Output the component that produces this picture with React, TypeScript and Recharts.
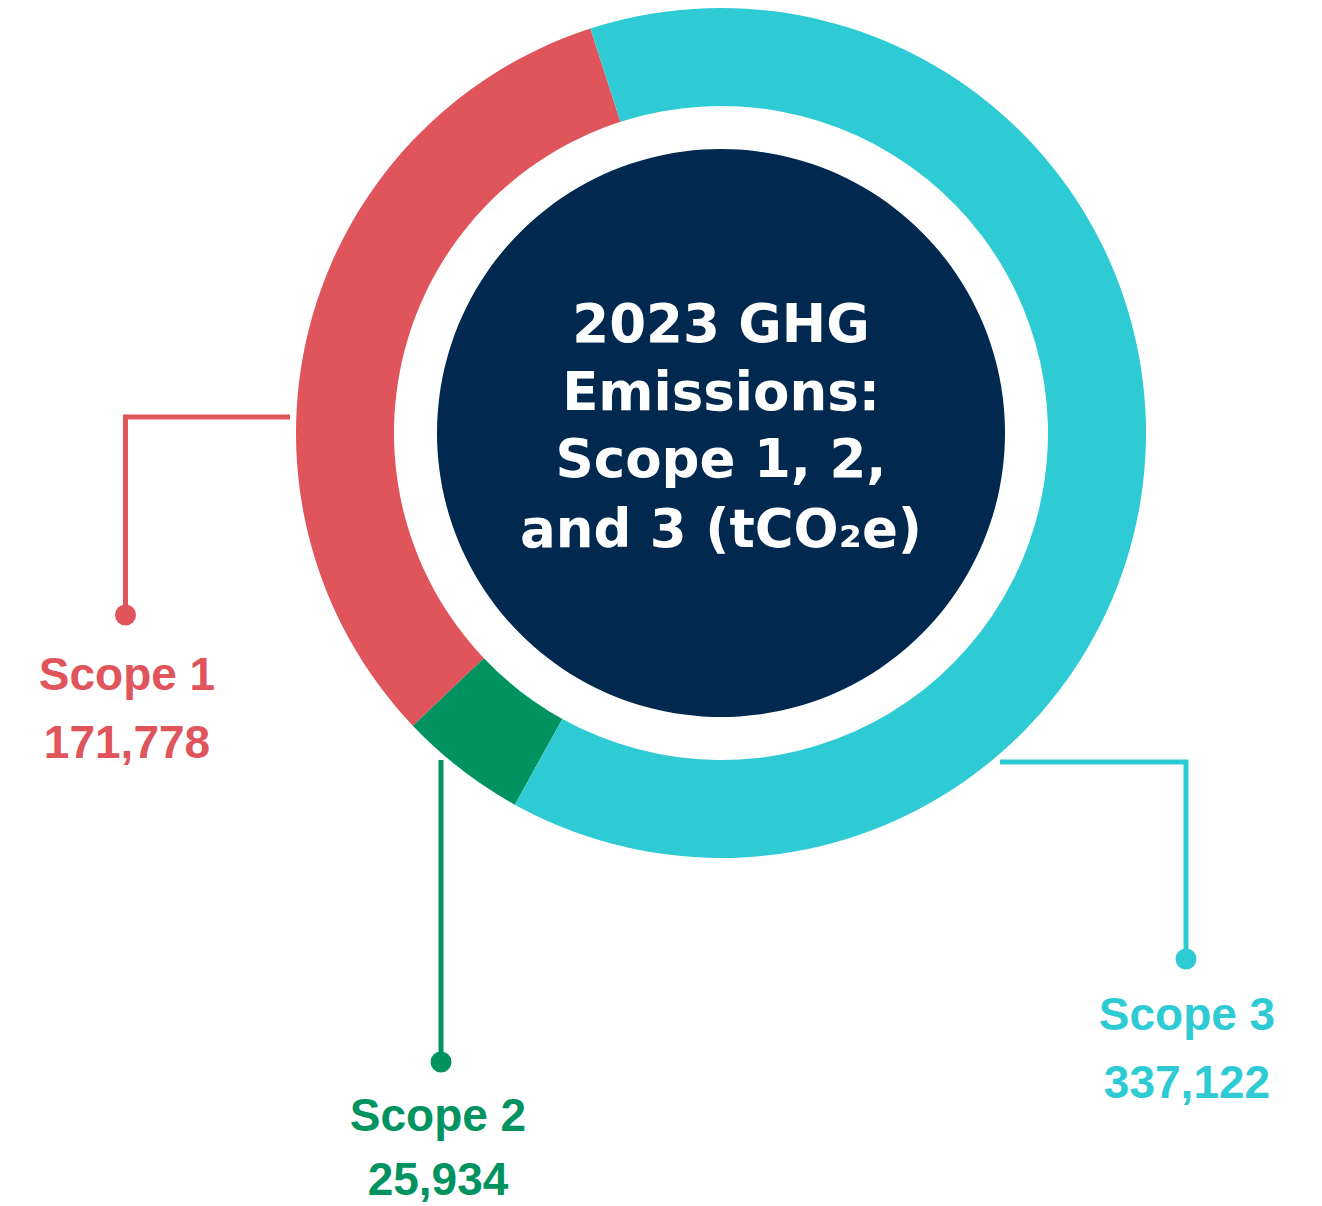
import React from "react";
import { PieChart, Pie, Cell } from "recharts";

const categories = ["Scope 1", "Scope 2", "Scope 3"];
const values = [171778, 25934, 337122];
const valueLabels = ["171,778", "25,934", "337,122"];
const titleLines = ["2023 GHG", "Emissions:", "Scope 1, 2,", "and 3 (tCO₂e)"];

const COLORS = ["#E0545B", "#00935F", "#2FCBD4"];
const NAVY = "#01284F";
const TITLE_FONT = "'DejaVu Sans', sans-serif";
const LABEL_FONT = "'Liberation Sans', Arial, sans-serif";

const W = 1322;
const H = 1206;
const CX = 721;
const CY = 433;

const data = categories.map((name, i) => ({ name, value: values[i], label: valueLabels[i] }));
const centerData = [{ name: "center", value: 1 }];

// connector layout, relative to the chart centre
const connectors = [
  { pts: [[-431, -16], [-595.5, -16], [-595.5, 182]], tx: -594, ty1: 257, ty2: 325 },
  { pts: [[-280, 327], [-280, 629]], tx: -283, ty1: 698, ty2: 762 },
  { pts: [[279, 329], [465, 329], [465, 526]], tx: 466, ty1: 597, ty2: 665 },
];

const renderLabel = (props: any) => {
  const i = props.index;
  const c = connectors[i];
  const color = COLORS[i];
  const d = c.pts.map((p, k) => `${k === 0 ? "M" : "L"}${CX + p[0]},${CY + p[1]}`).join(" ");
  const last = c.pts[c.pts.length - 1];
  return (
    <g key={`lbl-${i}`}>
      <path d={d} fill="none" stroke={color} strokeWidth={5} />
      <circle cx={CX + last[0]} cy={CY + last[1]} r={10.5} fill={color} />
      <text
        x={CX + c.tx}
        y={CY + c.ty1}
        textAnchor="middle"
        fill={color}
        fontFamily={LABEL_FONT}
        fontWeight={700}
        fontSize={46}
      >
        {data[i].name}
      </text>
      <text
        x={CX + c.tx}
        y={CY + c.ty2}
        textAnchor="middle"
        fill={color}
        fontFamily={LABEL_FONT}
        fontWeight={700}
        fontSize={46}
      >
        {data[i].label}
      </text>
    </g>
  );
};

const titleBaselines = [-91, -23, 44, 114];

const renderTitle = () => (
  <g key="title">
    {titleLines.map((t, k) => (
      <text
        key={k}
        x={CX}
        y={CY + titleBaselines[k]}
        textAnchor="middle"
        fill="#FFFFFF"
        fontFamily={TITLE_FONT}
        fontWeight={700}
        fontSize={53}
      >
        {t}
      </text>
    ))}
  </g>
);

export default function App() {
  return (
    <div style={{ position: "absolute", left: 0, top: 0, width: W, height: H, background: "#fff" }}>
      <PieChart width={W} height={H} margin={{ top: 0, right: 0, bottom: 0, left: 0 }}>
        <Pie
          data={data}
          dataKey="value"
          nameKey="name"
          cx={CX}
          cy={CY}
          innerRadius={327}
          outerRadius={425}
          startAngle={107.9}
          endAngle={467.9}
          stroke="none"
          label={renderLabel}
          labelLine={false}
          isAnimationActive={false}
        >
          {data.map((_, i) => (
            <Cell key={i} fill={COLORS[i]} />
          ))}
        </Pie>
        <Pie
          data={centerData}
          dataKey="value"
          cx={CX}
          cy={CY}
          innerRadius={0}
          outerRadius={284}
          stroke="none"
          fill={NAVY}
          label={renderTitle}
          labelLine={false}
          isAnimationActive={false}
        />
      </PieChart>
    </div>
  );
}
